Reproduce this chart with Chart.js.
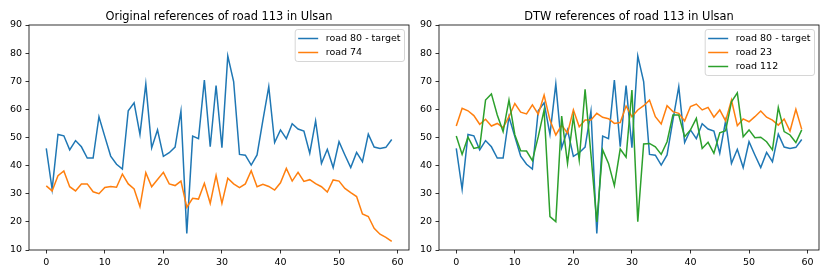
<!DOCTYPE html>
<html>
<head>
<meta charset="utf-8">
<script src="https://cdn.jsdelivr.net/npm/chart.js@4.4.0/dist/chart.umd.min.js"></script>
<style>
  body { margin: 0; background: #fff; }
  .painel { position: absolute; top: 0; }
</style>
</head>
<body>
<canvas id="esq" class="painel" width="415" height="277" style="left:0"></canvas>
<canvas id="dir" class="painel" width="415" height="277" style="left:415px"></canvas>
<script>
// Eixo x: índice do intervalo de tempo
const indices = [0, 1, 2, 3, 4, 5, 6, 7, 8, 9, 10, 11, 12, 13, 14, 15, 16, 17, 18, 19,
  20, 21, 22, 23, 24, 25, 26, 27, 28, 29, 30, 31, 32, 33, 34, 35, 36, 37, 38, 39,
  40, 41, 42, 43, 44, 45, 46, 47, 48, 49, 50, 51, 52, 53, 54, 55, 56, 57, 58, 59];
const ticksX = [0, 10, 20, 30, 40, 50, 60];
const ticksY = [10, 20, 30, 40, 50, 60, 70, 80, 90];

// Séries
const road80 = [46.1, 31.6, 51.1, 50.6, 45.6, 48.9, 46.7, 42.7, 42.7, 57.4,
  50.3, 43.4, 40.5, 38.8, 59.5, 62.3, 51.1, 69.0, 46.3, 52.7,
  43.3, 44.6, 46.6, 59.4, 15.9, 50.5, 49.6, 70.4, 46.7, 68.5,
  46.4, 79.0, 69.9, 44.0, 43.7, 40.2, 43.8, 56.2, 68.1, 48.2,
  52.7, 49.6, 54.9, 53.0, 52.3, 44.4, 55.9, 40.8, 45.8, 39.3,
  48.5, 43.8, 39.3, 44.7, 41.4, 51.2, 46.6, 46.1, 46.5, 49.3];
const road74 = [32.8, 31.0, 36.4, 38.1, 32.5, 31.0, 33.5, 33.5, 30.7, 30.0,
  32.2, 32.6, 32.3, 37.0, 33.5, 31.7, 25.4, 37.5, 32.5, 35.1,
  37.6, 33.5, 32.9, 34.5, 25.2, 28.4, 28.1, 33.7, 26.6, 36.5,
  26.6, 35.5, 33.5, 32.2, 33.5, 38.2, 32.5, 33.4, 32.6, 31.3,
  33.9, 39.0, 34.5, 37.6, 34.4, 35.0, 33.6, 32.5, 30.6, 34.9,
  34.5, 31.9, 30.4, 29.0, 22.8, 21.9, 17.7, 15.6, 14.5, 13.1];
const road23 = [54.1, 60.4, 59.5, 57.8, 54.7, 56.5, 54.1, 55.0, 53.5, 57.4,
  62.1, 59.0, 58.4, 61.6, 58.3, 65.1, 56.2, 50.9, 54.4, 51.5,
  59.8, 53.8, 56.2, 56.2, 58.6, 57.2, 56.7, 55.0, 55.3, 61.2,
  57.4, 59.8, 61.3, 63.3, 57.4, 54.8, 61.3, 59.2, 58.6, 55.9,
  61.0, 61.9, 59.8, 60.7, 57.2, 59.8, 55.9, 63.3, 54.2, 56.6,
  55.6, 57.4, 59.4, 57.2, 56.2, 54.4, 56.6, 52.3, 60.0, 52.9];
const road112 = [50.5, 44.0, 50.1, 46.1, 46.6, 63.3, 65.5, 58.0, 52.1, 63.3,
  51.0, 45.3, 45.2, 41.8, 50.3, 59.8, 21.9, 20.1, 57.6, 40.8,
  57.4, 42.0, 67.1, 44.0, 20.0, 45.6, 40.8, 32.9, 45.9, 43.0,
  66.9, 20.1, 47.7, 47.9, 46.7, 44.0, 48.5, 58.0, 58.0, 50.3,
  52.7, 56.8, 46.1, 48.3, 44.4, 51.7, 52.4, 62.7, 65.9, 50.3,
  52.7, 49.9, 50.1, 48.5, 45.6, 60.7, 52.1, 50.9, 48.2, 52.7];

const AZUL = '#1f77b4', LARANJA = '#ff7f0e', VERDE = '#2ca02c';
const FONTE = '"DejaVu Sans", sans-serif';

// Moldura, título e legenda no estilo matplotlib
const molduraPlugin = {
  id: 'moldura',
  afterDraw(chart, args, opts) {
    const { ctx, chartArea: a } = chart;
    ctx.save();
    ctx.strokeStyle = '#000';
    ctx.lineWidth = 0.8;
    ctx.strokeRect(a.left, a.top, a.right - a.left, a.bottom - a.top);

    ctx.fillStyle = '#000';
    ctx.font = '11.4px ' + FONTE;
    ctx.textAlign = 'center';
    ctx.textBaseline = 'alphabetic';
    ctx.fillText(opts.titulo, (a.left + a.right) / 2, a.top - 5.5);

    const sets = chart.data.datasets;
    ctx.font = '9.5px ' + FONTE;
    const largTexto = Math.max(...sets.map(d => ctx.measureText(d.label).width));
    const larg = 3 + 20 + 7.5 + largTexto + 4;
    const alt = 18 + 14 * (sets.length - 1);
    const x0 = a.right - 4.5 - larg, y0 = a.top + 4.5;
    ctx.beginPath();
    ctx.roundRect(x0, y0, larg, alt, 2.5);
    ctx.fillStyle = 'rgba(255,255,255,0.8)';
    ctx.fill();
    ctx.strokeStyle = '#cccccc';
    ctx.stroke();
    ctx.textAlign = 'left';
    ctx.textBaseline = 'middle';
    sets.forEach((d, i) => {
      const y = y0 + 9 + 14 * i;
      ctx.strokeStyle = d.borderColor;
      ctx.lineWidth = 1.5;
      ctx.beginPath();
      ctx.moveTo(x0 + 3, y);
      ctx.lineTo(x0 + 23, y);
      ctx.stroke();
      ctx.fillStyle = '#000';
      ctx.fillText(d.label, x0 + 30.5, y);
    });
    ctx.restore();
  }
};

function criarGrafico(id, titulo, series, larguraY, padDir) {
  const eixo = (ticks, min, max, fit) => ({
    type: 'linear', min, max,
    afterBuildTicks: s => { s.ticks = ticks.map(v => ({ value: v })); },
    afterFit: fit,
    grid: { drawOnChartArea: false, drawTicks: true, tickLength: 3.5, color: '#000', lineWidth: 0.8 },
    border: { display: false },
    ticks: { color: '#000', font: { family: FONTE, size: 9.5 }, padding: 3.5, maxRotation: 0, autoSkip: false }
  });
  return new Chart(document.getElementById(id), {
    type: 'line',
    data: {
      labels: indices,
      datasets: series.map((s, i) => ({
        label: s.nome, data: s.valores, borderColor: s.cor, borderWidth: 1.5,
        pointRadius: 0, tension: 0, fill: false, order: series.length - i
      }))
    },
    options: {
      responsive: false,
      animation: false,
      layout: { padding: { top: 25, right: padDir, left: 0, bottom: 0 } },
      plugins: { legend: { display: false }, tooltip: { enabled: false }, moldura: { titulo } },
      scales: {
        x: eixo(ticksX, -2.95, 61.95, s => { s.height = 27; }),
        y: eixo(ticksY, 10, 90, s => { s.width = larguraY; })
      }
    },
    plugins: [molduraPlugin]
  });
}

criarGrafico('esq', 'Original references of road 113 in Ulsan', [
  { nome: 'road 80 - target', valores: road80, cor: AZUL },
  { nome: 'road 74', valores: road74, cor: LARANJA }
], 29, 6);

criarGrafico('dir', 'DTW references of road 113 in Ulsan', [
  { nome: 'road 80 - target', valores: road80, cor: AZUL },
  { nome: 'road 23', valores: road23, cor: LARANJA },
  { nome: 'road 112', valores: road112, cor: VERDE }
], 24, 11);
</script>
</body>
</html>
